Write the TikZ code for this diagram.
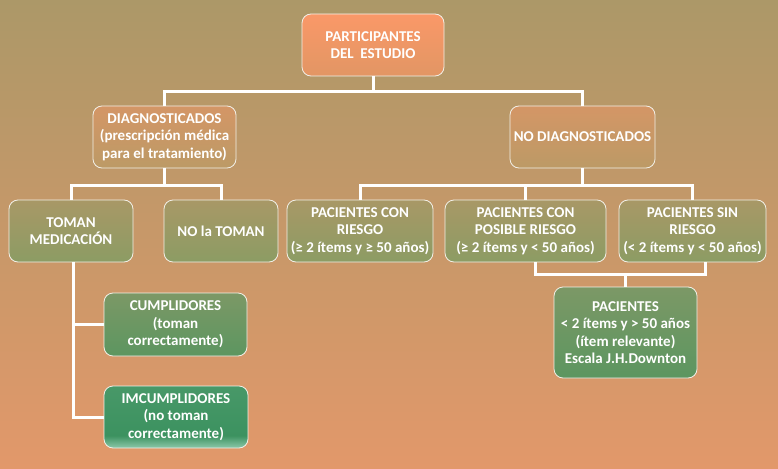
\documentclass[tikz,border=0pt]{standalone}
\usepackage{fontspec}
\setmainfont{Carlito}
\usepackage{xcolor}
\usepackage{tikz}
\usetikzlibrary{positioning,calc}
\definecolor{bgtop}{RGB}{172,152,104}
\definecolor{bgbot}{RGB}{226,152,106}
\definecolor{orgtop}{RGB}{250,152,104}
\definecolor{orgbot}{RGB}{226,150,100}
\definecolor{tantop}{RGB}{212,150,102}
\definecolor{tanbot}{RGB}{188,154,102}
\definecolor{olvtop}{RGB}{168,152,102}
\definecolor{olvbot}{RGB}{140,156,100}
\definecolor{grntop}{RGB}{124,152,102}
\definecolor{grnbot}{RGB}{92,150,96}
\definecolor{dgrntop}{RGB}{72,152,104}
\definecolor{dgrn}{RGB}{60,146,96}
\definecolor{lgrn}{RGB}{140,200,170}
\pgfdeclareverticalshading{incshade}{100bp}{color(0bp)=(lgrn); color(25bp)=(lgrn);
  color(35bp)=(dgrn); color(75bp)=(dgrntop); color(100bp)=(dgrntop)}

\begin{document}
\begin{tikzpicture}[x=1pt, y=-1pt,
      box/.style={rounded corners=9pt, draw=white!85!olvtop, line width=0.8pt, inner sep=2pt,
        align=center, text=white, font=\fontsize{15}{17.5}\selectfont\bfseries,
        minimum height=62pt},
      lvl0/.style={box, top color=orgtop, bottom color=orgbot},
      lvl1/.style={box, top color=tantop, bottom color=tanbot},
      lvl2/.style={box, top color=olvtop, bottom color=olvbot},
      lvl3/.style={box, top color=grntop, bottom color=grnbot},
      link/.style={draw=white, line width=3pt}
    ]
      % background
      \fill[top color=bgtop, bottom color=bgbot] (0,0) rectangle (778,468);

      \node[lvl0, minimum width=142pt] (part) at (373,45) {PARTICIPANTES\\DEL\ \ ESTUDIO};
      \node[lvl1, minimum width=143pt] (diag) at (164.5,137) {DIAGNOSTICADOS\\(prescripción médica\\para el tratamiento)};
      \node[lvl1, minimum width=145pt] (nodiag) at (582.5,137) {NO DIAGNOSTICADOS};

      \node[lvl2, minimum width=124pt] (toman) at (71,231) {TOMAN\\MEDICACIÓN};
      \node[lvl2, minimum width=114pt] (notoman) at (221,231) {NO la TOMAN};
      \node[lvl2, minimum width=146pt] (conr) at (360,231) {PACIENTES CON\\RIESGO\\(≥ 2 ítems y ≥ 50 años)};
      \node[lvl2, minimum width=161pt] (posr) at (525.5,231) {PACIENTES CON\\POSIBLE RIESGO\\(≥ 2 ítems y < 50 años)};
      \node[lvl2, minimum width=147pt] (sinr) at (692.5,231) {PACIENTES SIN\\RIESGO\\(< 2 ítems y < 50 años)};

      \node[lvl3, minimum width=143pt, minimum height=91pt] (relev) at (625.5,332.5) {PACIENTES\\< 2 ítems y > 50 años\\(ítem relevante)\\Escala J.H.Downton};
      \node[lvl3, minimum width=143pt, minimum height=63pt] (cumpl) at (175.5,324.5) {CUMPLIDORES\\(toman\\correctamente)};
      \node[box, minimum width=144pt, shading=incshade] (incumpl) at (176,417) {IMCUMPLIDORES\\(no toman\\correctamente)};

      % connectors
      \draw[link] (part.south) -- ++(0,15) coordinate (j0) -| (diag.north);
      \draw[link] (j0) -| (nodiag.north);
      \draw[link] (diag.south) -- ++(0,17) coordinate (j1) -| (toman.north);
      \draw[link] (j1) -| (notoman.north);
      \draw[link] (nodiag.south) -- ++(0,17) coordinate (j2) -| (conr.north);
      \draw[link] (j2) -| (sinr.north);
      \draw[link] (posr.north) -- (posr.north |- j2);
      \draw[link] ([xshift=10pt]posr.south) -- ++(0,12) coordinate (j3) -| ([xshift=13pt]sinr.south);
      \draw[link] (relev.north) -- (relev.north |- j3);
      \draw[link] ([xshift=2pt]toman.south) |- (cumpl.west);
      \draw[link] ([xshift=2pt]toman.south) |- (incumpl.west);
\end{tikzpicture}
\end{document}
